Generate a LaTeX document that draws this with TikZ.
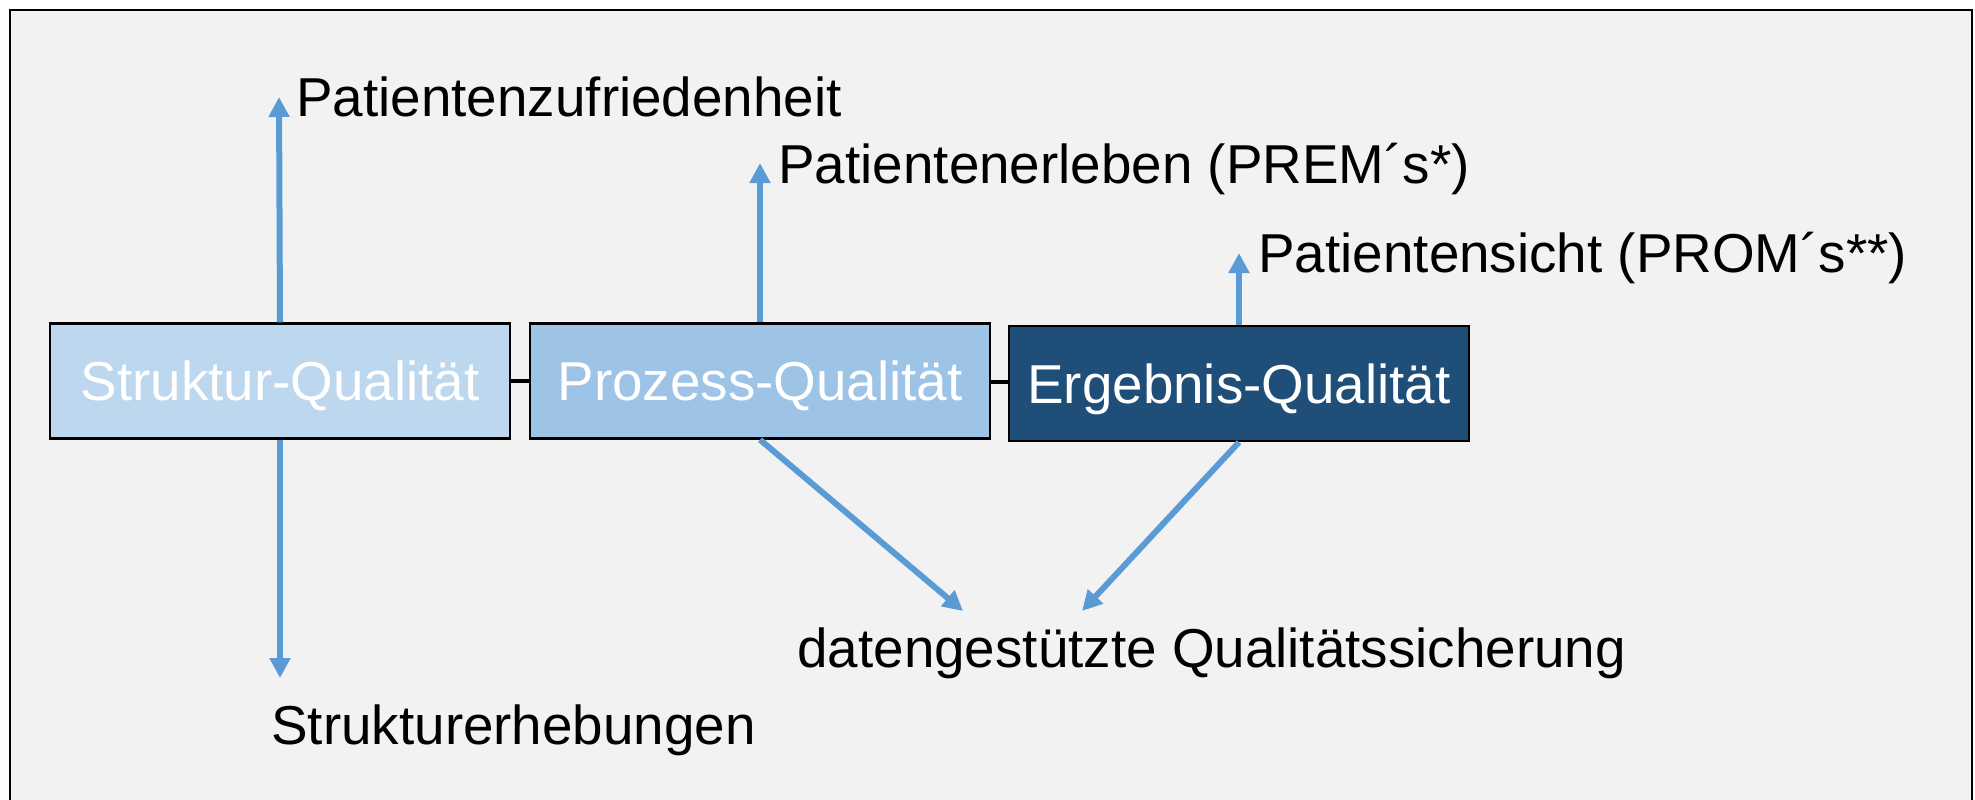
\documentclass[tikz,border=0pt]{standalone}
\usepackage{fontspec}
\setmainfont{Liberation Sans}
\usetikzlibrary{arrows.meta}
\definecolor{panelgrey}{HTML}{F2F2F2}
\definecolor{arrowblue}{HTML}{5B9BD5}
\definecolor{lightbox}{HTML}{BDD7EE}
\definecolor{midbox}{HTML}{9DC3E6}
\definecolor{darkbox}{HTML}{1F4E79}
\tikzset{
  qbox/.style={draw=black, line width=1.2pt, minimum width=230pt, minimum height=57.5pt,
    inner sep=0pt, text=white, font=\fontsize{27.4}{30}\selectfont,
    text height=19.6pt, text depth=0pt},
  label/.style={inner sep=0pt, anchor=base west, font=\fontsize{27.4}{30}\selectfont},
  flow/.style={draw=arrowblue, line width=3pt, -{Triangle[length=10pt,width=10pt]}},
  link/.style={draw=black, line width=2pt},
}
\begin{document}
\begin{tikzpicture}[x=0.5pt, y=-0.5pt]
  \useasboundingbox (0,0) rectangle (1975,799);
  \clip (0,0) rectangle (1975,799);
  \fill[white] (0,0) rectangle (1975,799);
  % panel
  \draw[fill=panelgrey, line width=1.3pt] (10,10) rectangle (1972,830);

  % the three quality dimensions
  \node[qbox, fill=lightbox] (struktur) at (280,381) {Struktur-Qualität};
  \node[qbox, fill=midbox]   (prozess)  at (760,381) {Prozess-Qualität};
  \node[qbox, fill=darkbox]  (ergebnis) at (1239,383.5) {Ergebnis-Qualität};

  \draw[link] (struktur.east) -- (struktur.east -| prozess.west);
  \draw[link] (prozess.east |- 0,382) -- (ergebnis.west |- 0,382);

  % labels
  \node[label] (zufr) at (296,116) {Patientenzufriedenheit};
  \node[label] (erleb) at (778,183) {Patientenerleben (PREM´s*)};
  \node[label] (sicht) at (1258,272) {Patientensicht (PROM´s**)};
  \node[label] (erheb) at (271,744) {Strukturerhebungen};
  \node[label] (qs) at (797,667) {datengestützte Qualitätssicherung};

  \coordinate (tzufr) at (279,97);
  \coordinate (terleb) at (760,163);
  \coordinate (tsicht) at (1239,253);
  \coordinate (terheb) at (280,678);
  \coordinate (tqsl) at (963,611);
  \coordinate (tqsr) at (1082,611);

  % arrows
  \draw[flow] (struktur.north) -- (tzufr);
  \draw[flow] (struktur.south) -- (terheb);
  \draw[flow] (prozess.north) -- (terleb);
  \draw[flow] (ergebnis.north) -- (tsicht);
  \draw[flow] (prozess.south) -- (tqsl);
  \draw[flow] (ergebnis.south) -- (tqsr);
\end{tikzpicture}
\end{document}
